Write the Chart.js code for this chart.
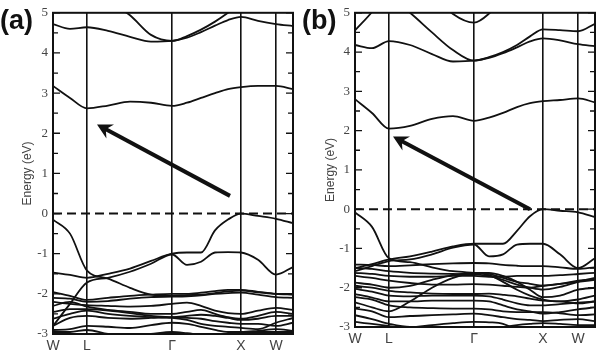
<!DOCTYPE html>
<html>
<head>
<meta charset="utf-8">
<script src="https://cdn.jsdelivr.net/npm/chart.js@4.4.0/dist/chart.umd.min.js"></script>
<style>
body{margin:0;background:#fff;}
#wrap{position:relative;width:600px;height:353px;overflow:hidden;}
canvas{position:absolute;top:0;}
#chartA{left:0;}
#chartB{left:300px;}
.tag{position:absolute;top:5px;font:bold 27px "Liberation Sans",Arial,sans-serif;color:#111;}
</style>
</head>
<body>
<div id="wrap">
  <canvas id="chartA" width="300" height="353"></canvas>
  <canvas id="chartB" width="300" height="353"></canvas>
  <div class="tag" style="left:0">(a)</div>
  <div class="tag" style="left:302px">(b)</div>
</div>
<script>
// k-path sample positions and high symmetry points
const kPath = [0, 17, 34, 55, 77, 98, 119, 134, 148, 162, 175, 188, 205, 223, 240];
const kTicks = [0, 34, 119, 188, 223];
const kLabels = ['W', 'L', 'Γ', 'X', 'W'];
const fermiLevel = 0;

// panel (a) bands (eV)
const a_cb1 = [3.18, 2.88, 2.62, 2.69, 2.79, 2.76, 2.68, 2.76, 2.88, 3.0, 3.1, 3.15, 3.18, 3.18, 3.1];
const a_cb2 = [4.72, 4.6, 4.64, 4.55, 4.4, 4.28, 4.3, 4.38, 4.52, 4.68, 4.82, 4.9, 4.8, 4.72, 4.67];
const a_cb3 = [7.0, 6.4, 5.9, 5.3, 4.94, 4.45, 4.3, 4.42, 4.58, 4.78, 5.0, 5.25, 5.6, 5.9, 6.0];
const a_vb1 = [-0.15, -0.5, -1.42, -1.62, -1.85, -2.02, -2.05, -2.03, -2.02, -1.98, -1.94, -1.92, -1.96, -2.0, -2.0];
const a_vb2 = [-1.47, -1.53, -1.6, -1.5, -1.37, -1.18, -1.0, -0.97, -0.97, -0.42, -0.15, 0, -0.06, -0.13, -0.24];
const a_vb3 = [-2.8, -2.25, -1.72, -1.6, -1.45, -1.25, -1.02, -1.28, -1.2, -0.97, -0.96, -0.97, -1.15, -1.52, -1.33];
const a_c1 = [-1.96, -2.05, -2.15, -2.1, -2.05, -2.02, -2.0, -2.0, -1.97, -1.93, -1.9, -1.9, -1.95, -2.0, -2.02];
const a_c2 = [-2.1, -2.12, -2.2, -2.18, -2.12, -2.08, -2.07, -2.06, -2.04, -2.0, -1.98, -1.97, -2.02, -2.08, -2.1];
const a_c3 = [-2.2, -2.25, -2.28, -2.3, -2.32, -2.3, -2.25, -2.22, -2.3, -2.42, -2.48, -2.5, -2.42, -2.35, -2.4];
const a_c4 = [-2.3, -2.2, -2.32, -2.4, -2.45, -2.5, -2.5, -2.45, -2.4, -2.5, -2.58, -2.62, -2.55, -2.45, -2.5];
const a_c5 = [-2.45, -2.38, -2.38, -2.42, -2.48, -2.55, -2.58, -2.6, -2.62, -2.68, -2.72, -2.75, -2.75, -2.8, -2.72];
const a_c6 = [-2.62, -2.5, -2.42, -2.5, -2.55, -2.58, -2.6, -2.65, -2.75, -2.8, -2.82, -2.85, -2.88, -2.72, -2.6];
const a_c7 = [-2.9, -2.88, -2.8, -2.82, -2.85, -2.78, -2.72, -2.75, -2.82, -2.9, -2.95, -2.95, -2.92, -2.88, -2.92];
const a_c8 = [-2.8, -2.6, -2.55, -2.6, -2.62, -2.6, -2.58, -2.55, -2.52, -2.55, -2.6, -2.65, -2.62, -2.55, -2.55];
const a_c9 = [-2.95, -2.95, -2.9, -3.0, -3.05, -3.0, -2.95, -2.98, -3.02, -3.05, -3.0, -2.98, -2.95, -2.95, -2.95];

// panel (b) bands (eV)
const b_cb1 = [2.8, 2.45, 2.05, 2.12, 2.3, 2.37, 2.25, 2.33, 2.45, 2.6, 2.7, 2.75, 2.78, 2.82, 2.72];
const b_cb2 = [4.18, 4.1, 4.28, 4.18, 3.95, 3.76, 3.78, 3.85, 3.97, 4.12, 4.27, 4.35, 4.3, 4.2, 4.15];
const b_cb3 = [6.2, 5.8, 5.4, 5.0, 4.5, 4.05, 3.78, 3.87, 4.0, 4.18, 4.4, 4.58, 4.56, 4.53, 4.72];
const b_cb4 = [4.55, 5.02, 5.6, 6.2, 6.5, 6.5, 6.5, 6.5, 6.5, 6.5, 6.5, 6.5, 6.5, 6.5, 6.5];
const b_cb5 = [6.5, 6.5, 6.5, 6.2, 5.5, 4.97, 4.75, 4.98, 5.4, 6.0, 6.5, 6.5, 6.5, 6.5, 6.5];
const b_vb1 = [-0.08, -0.45, -1.25, -1.35, -1.48, -1.58, -1.62, -1.65, -1.75, -1.85, -1.9, -1.95, -1.9, -1.85, -1.8];
const b_vb2 = [-1.5, -1.4, -1.28, -1.2, -1.08, -0.95, -0.88, -0.88, -0.88, -0.55, -0.18, 0, -0.04, -0.08, -0.2];
const b_vb3 = [-1.58, -1.45, -1.32, -1.28, -1.15, -0.98, -0.9, -1.2, -1.15, -0.9, -0.88, -0.88, -1.15, -1.5, -1.25];
const b_c1 = [-1.41, -1.42, -1.45, -1.43, -1.4, -1.38, -1.37, -1.38, -1.42, -1.44, -1.45, -1.45, -1.48, -1.52, -1.48];
const b_c2 = [-1.49, -1.52, -1.58, -1.62, -1.64, -1.65, -1.66, -1.7, -1.8, -1.92, -2.0, -2.05, -1.98, -1.85, -1.75];
const b_c3 = [-1.62, -1.65, -1.7, -1.72, -1.72, -1.7, -1.7, -1.72, -1.72, -1.7, -1.7, -1.7, -1.68, -1.65, -1.62];
const b_c4 = [-2.37, -2.5, -2.6, -2.35, -2.0, -1.75, -1.62, -1.68, -1.85, -2.05, -2.2, -2.3, -2.35, -2.3, -2.2];
const b_c5 = [-1.7, -1.75, -1.82, -1.88, -1.92, -1.92, -1.91, -1.92, -1.95, -1.98, -2.0, -1.95, -1.9, -1.82, -1.78];
const b_c6 = [-1.87, -1.92, -2.0, -1.95, -1.8, -1.68, -1.62, -1.62, -1.7, -1.85, -2.05, -2.24, -2.2, -2.05, -2.0];
const b_c7 = [-1.95, -2.0, -2.08, -2.12, -2.15, -2.16, -2.16, -2.15, -2.18, -2.22, -2.28, -2.33, -2.35, -2.4, -2.35];
const b_c8 = [-2.03, -2.1, -2.2, -2.22, -2.2, -2.2, -2.2, -2.22, -2.3, -2.4, -2.45, -2.45, -2.42, -2.38, -2.35];
const b_c9 = [-2.16, -2.25, -2.35, -2.35, -2.33, -2.33, -2.33, -2.35, -2.45, -2.55, -2.6, -2.66, -2.62, -2.55, -2.5];
const b_c10 = [-2.24, -2.3, -2.45, -2.5, -2.52, -2.53, -2.53, -2.55, -2.6, -2.62, -2.62, -2.62, -2.65, -2.7, -2.68];
const b_c11 = [-2.7, -2.8, -2.92, -3.0, -2.95, -2.9, -2.87, -2.88, -2.92, -3.1, -3.4, -3.5, -3.5, -3.5, -3.5];
const b_c12 = [-2.87, -2.92, -2.98, -3.05, -3.1, -3.1, -3.1, -3.05, -3.0, -2.95, -2.92, -2.9, -2.92, -2.95, -2.95];
const b_c13 = [-2.53, -2.6, -2.75, -2.72, -2.7, -2.68, -2.66, -2.7, -2.75, -2.8, -2.82, -2.85, -2.82, -2.8, -2.85];

// arrows, in data coords [k, E]: from -> to
const arrowA = [[177, 0.44], [44, 2.22]];
const arrowB = [[175, 0.0], [38, 1.85]];

const bandsA = [a_cb1, a_cb2, a_cb3, a_vb1, a_vb2, a_vb3, a_c1, a_c2, a_c3, a_c4, a_c5, a_c6, a_c7, a_c8, a_c9];
const bandsB = [b_cb1, b_cb2, b_cb3, b_cb4, b_cb5, b_vb1, b_vb2, b_vb3, b_c1, b_c2, b_c3, b_c4, b_c5, b_c6, b_c7, b_c8, b_c9, b_c10, b_c11, b_c12, b_c13];

const ink = '#111';

// frame, inward ticks on both sides, arrow
const framePlugin = {
  id: 'frame',
  afterDraw(chart, args, opts) {
    const ctx = chart.ctx;
    const ca = chart.chartArea;
    const x = chart.scales.x, y = chart.scales.y;
    ctx.save();
    ctx.strokeStyle = ink;
    ctx.lineWidth = 1.3;
    for (let v = y.min; v <= y.max; v += 0.5) {
      const py = y.getPixelForValue(v);
      const len = Number.isInteger(v) ? 7 : 5;
      ctx.beginPath();
      ctx.moveTo(ca.left, py); ctx.lineTo(ca.left + len, py);
      ctx.moveTo(ca.right - len, py); ctx.lineTo(ca.right, py);
      ctx.stroke();
    }
    ctx.lineWidth = 2;
    ctx.strokeRect(ca.left, ca.top, ca.right - ca.left, ca.bottom - ca.top);

    // arrow
    const a = opts.arrow;
    const x0 = x.getPixelForValue(a[0][0]), y0 = y.getPixelForValue(a[0][1]);
    const x1 = x.getPixelForValue(a[1][0]), y1 = y.getPixelForValue(a[1][1]);
    const ang = Math.atan2(y1 - y0, x1 - x0);
    const head = 15, wing = 8;
    ctx.lineWidth = 4;
    ctx.lineCap = 'butt';
    ctx.beginPath();
    ctx.moveTo(x0, y0);
    ctx.lineTo(x1 - Math.cos(ang) * 8, y1 - Math.sin(ang) * 8);
    ctx.stroke();
    ctx.fillStyle = ink;
    ctx.beginPath();
    ctx.moveTo(x1, y1);
    ctx.lineTo(x1 - Math.cos(ang) * head + Math.sin(ang) * wing, y1 - Math.sin(ang) * head - Math.cos(ang) * wing);
    ctx.lineTo(x1 - Math.cos(ang) * 10, y1 - Math.sin(ang) * 10);
    ctx.lineTo(x1 - Math.cos(ang) * head - Math.sin(ang) * wing, y1 - Math.sin(ang) * head + Math.cos(ang) * wing);
    ctx.closePath();
    ctx.fill();
    ctx.restore();
  }
};

function makeChart(id, bands, arrow, pad, yWidth, xHeight) {
  const datasets = bands.map(b => ({
    data: kPath.map((k, i) => ({x: k, y: b[i]})),
    borderColor: ink,
    borderWidth: 1.8,
    pointRadius: 0,
    cubicInterpolationMode: 'monotone',
    fill: false
  }));
  datasets.push({
    data: [{x: kPath[0], y: fermiLevel}, {x: kPath[kPath.length - 1], y: fermiLevel}],
    borderColor: ink,
    borderWidth: 2,
    borderDash: [9, 5],
    pointRadius: 0
  });

  return new Chart(document.getElementById(id), {
    type: 'line',
    data: {datasets: datasets},
    options: {
      responsive: false,
      animation: false,
      events: [],
      layout: {padding: pad},
      plugins: {
        legend: {display: false},
        tooltip: {enabled: false},
        frame: {arrow: arrow}
      },
      scales: {
        x: {
          type: 'linear',
          min: kPath[0],
          max: kPath[kPath.length - 1],
          afterBuildTicks: s => { s.ticks = kTicks.map(v => ({value: v})); },
          afterFit: s => { s.height = xHeight; },
          grid: {color: ink, lineWidth: 1.6, drawTicks: false},
          border: {display: false},
          ticks: {
            autoSkip: false, maxRotation: 0, padding: 4, color: '#444',
            font: {family: 'Liberation Sans', size: 14},
            callback: (v, i) => kLabels[i]
          }
        },
        y: {
          min: -3,
          max: 5,
          afterFit: s => { s.width = yWidth; },
          grid: {display: false, drawTicks: false},
          border: {display: false},
          ticks: {stepSize: 1, padding: 5, color: '#444', font: {family: 'Liberation Serif', size: 13}},
          title: {
            display: true, text: 'Energy (eV)', color: '#444',
            font: {family: 'Liberation Sans', size: 12}, padding: {top: 0, bottom: 0}
          }
        }
      }
    },
    plugins: [framePlugin]
  });
}

makeChart('chartA', bandsA, arrowA, {left: 20, top: 7, right: 7, bottom: 0}, 33, 19);
makeChart('chartB', bandsB, arrowB, {left: 23, top: 7, right: 5, bottom: 0}, 32, 26);
</script>
</body>
</html>
